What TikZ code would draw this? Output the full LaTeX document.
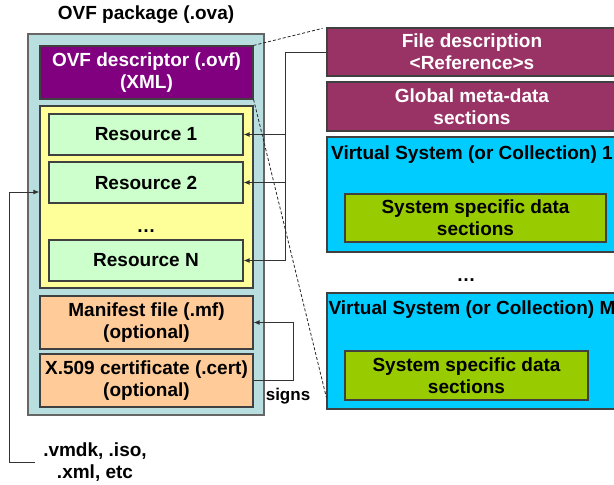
\documentclass[tikz,border=0pt]{standalone}
\usepackage{fontspec}
\setmainfont{Liberation Sans}
\usetikzlibrary{arrows.meta,calc}

\definecolor{pkgteal}{HTML}{B8DEE0}
\definecolor{descpurple}{HTML}{800080}
\definecolor{resyellow}{HTML}{FFFF99}
\definecolor{resgreen}{HTML}{CCFFCC}
\definecolor{optorange}{HTML}{FFCC99}
\definecolor{metaplum}{HTML}{993366}
\definecolor{vscyan}{HTML}{00CCFF}
\definecolor{datalime}{HTML}{99CC00}

\tikzset{
  txt/.style={font=\fontsize{19}{22}\selectfont\bfseries, align=center},
  box/.style={txt, draw=black!75, line width=1.2pt, inner sep=0pt},
  link/.style={draw=black!80, line width=0.9pt},
  tip/.style={-{Latex[length=6pt,width=5pt]}},
  zoomline/.style={draw=black!85, line width=0.8pt, dash pattern=on 3pt off 2pt},
}

\begin{document}
\begin{tikzpicture}[x=1pt, y=-1pt]
  \useasboundingbox (0,0) rectangle (614,485);
  \clip (0,0) rectangle (614,485);

  % package contents
  \node[txt] (title) at (146,15) {OVF package (.ova)};
  \node[box, draw=black!60, fill=pkgteal, minimum width=236pt, minimum height=381pt] (pkg) at (146,224.5) {};
  \node[box, fill=descpurple, text=white, minimum width=213pt, minimum height=53pt] (desc) at (146.5,72.5) {OVF descriptor (.ovf)\\(XML)};
  \node[box, fill=resyellow, minimum width=213pt, minimum height=182pt] (yel) at (146.5,197) {};
  \node[box, fill=resgreen, minimum width=194pt, minimum height=41pt] (res1) at (146,134.5) {Resource 1};
  \node[box, fill=resgreen, minimum width=194pt, minimum height=41pt] (res2) at (146,182.5) {Resource 2};
  \node[txt] (rdots) at (146,231) {\dots};
  \node[box, fill=resgreen, minimum width=194pt, minimum height=41pt] (resN) at (146,260.5) {Resource N};
  \node[box, fill=optorange, minimum width=213pt, minimum height=53pt] (mf) at (146.5,322.5) {Manifest file (.mf)\\(optional)};
  \node[box, fill=optorange, minimum width=213pt, minimum height=53pt] (cert) at (146.5,380.5) {X.509 certificate (.cert)\\(optional)};

  % descriptor sections
  \node[box, fill=metaplum, text=white, minimum width=290pt, minimum height=48pt] (fdesc) at (472,52) {File description\\<Reference>s};
  \node[box, fill=metaplum, text=white, minimum width=290pt, minimum height=49pt] (glob) at (472,106.5) {Global meta-data\\sections};
  \node[box, fill=vscyan, minimum width=290pt, minimum height=115pt] (vs1) at (472,194.5) {};
  \node[txt] (vs1t) at (472,155) {Virtual System (or Collection) 1};
  \node[box, fill=datalime, minimum width=261pt, minimum height=48pt] (ssd1) at (475.5,218) {System specific data\\sections};
  \node[txt] (vdots) at (466,280) {\dots};
  \node[box, fill=vscyan, minimum width=290pt, minimum height=116pt] (vsm) at (472,351) {};
  \node[txt] (vsmt) at (472,310) {Virtual System (or Collection) M};
  \node[box, fill=datalime, minimum width=243pt, minimum height=49pt] (ssd2) at (466.5,375.5) {System specific data\\sections};

  % references from the file description to the resources
  \coordinate (bus) at (285,52);
  \draw[link, tip] (fdesc.west) -- (bus) |- (resN.east);
  \draw[link, tip] (res1.east -| bus) -- (res1.east);
  \draw[link, tip] (res2.east -| bus) -- (res2.east);

  % certificate signs the manifest
  \draw[link, tip] (cert.east) -- ++(40,0) |- (mf.east);
  \node[txt, font=\fontsize{17}{20}\selectfont\bfseries] (signs) at (288,396) {signs};

  % external file types
  \node[txt, inner sep=0pt] (vmdk) at (95,462) {.vmdk, .iso,\\.xml, etc};
  \coordinate (lk) at (9,192);
  \draw[link, tip] ([xshift=-8pt]vmdk.west) -| (lk) -- (lk -| yel.west);

  % descriptor expanded on the right
  \draw[zoomline, shorten >=4pt] (desc.north east) -- (fdesc.north west);
  \draw[zoomline] (desc.south east) -- ([yshift=12pt]vsm.south west);
\end{tikzpicture}
\end{document}
